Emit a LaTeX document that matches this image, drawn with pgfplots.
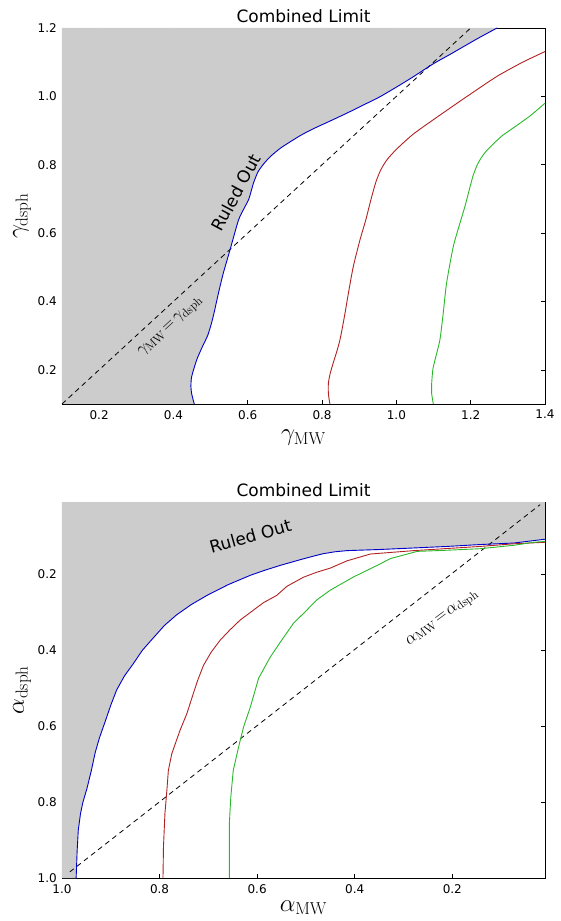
\documentclass[border=0pt]{standalone}
\usepackage[no-math]{fontspec}
\setmainfont{DejaVu Sans}
\usepackage{pgfplots}
\pgfplotsset{compat=1.18}
\definecolor{fillgray}{gray}{0.8}
\definecolor{cblue}{rgb}{0.0,0.0,0.8}
\definecolor{cred}{rgb}{0.70,0.13,0.13}
\definecolor{cgreen}{rgb}{0.16,0.72,0.16}
\pgfplotsset{
  common/.style={
    scale only axis, width=483pt, height=376pt, anchor=south west,
    clip mode=individual,
    /pgf/number format/assume math mode=true,
    /pgf/number format/fixed, /pgf/number format/fixed zerofill,
    /pgf/number format/precision=1,
    tick align=inside, major tick length=4pt,
    axis line style={line width=0.8pt}, tick style={line width=0.6pt, black},
    every tick label/.append style={font=\fontsize{12}{14}\selectfont, inner sep=0pt},
    xticklabel shift=6pt, yticklabel shift=5pt,
    title style={font=\fontsize{17}{20}\selectfont, at={(axis description cs:0.5,1)}, anchor=base, yshift=-0.5pt},
    xlabel style={font=\fontsize{26}{30}\selectfont, at={(axis description cs:0.5,0)}, anchor=base, yshift=-37pt},
  },
}
\begin{document}
\begin{tikzpicture}
\useasboundingbox (0,0) rectangle (561pt,921pt);
% ---------------- top panel ----------------
\begin{axis}[common, at={(62pt,517pt)},
  xmin=0.1, xmax=1.4, ymin=0.1, ymax=1.2,
  xtick={0.2,0.4,...,1.41}, ytick={0.2,0.4,...,1.21},
  title={Combined Limit},
  xlabel={$\gamma_{\mathrm{MW}}$}]
\addplot[fill=fillgray, draw=none] coordinates {
(0.1,1.2) (0.1,0.1)
(0.456,0.10) (0.449,0.13) (0.447,0.151) (0.449,0.180) (0.4625,0.229) (0.478,0.268)
(0.492,0.300) (0.502,0.335) (0.510,0.37) (0.521,0.424) (0.534,0.482) (0.552,0.550) (0.575,0.638)
(0.590,0.672) (0.603,0.70) (0.615,0.745) (0.627,0.778) (0.641,0.80) (0.66,0.823)
(0.69,0.85) (0.741,0.885) (0.776,0.905) (0.82,0.927) (0.867,0.951)
(0.91,0.974) (0.956,0.999) (1.0,1.027) (1.045,1.057) (1.099,1.095) (1.14,1.12)
(1.18,1.145) (1.22,1.17) (1.271,1.2)};
\addplot[black, line width=0.8pt, dash pattern=on 5pt off 4pt] coordinates {(0.1,0.1) (1.2,1.2)};
\addplot[cblue, line width=0.9pt, smooth, tension=0.4] coordinates {
(0.456,0.10) (0.449,0.13) (0.447,0.151) (0.449,0.180) (0.4625,0.229) (0.478,0.268)
(0.492,0.300) (0.502,0.335) (0.510,0.37) (0.521,0.424) (0.534,0.482) (0.552,0.550) (0.575,0.638)
(0.590,0.672) (0.603,0.70) (0.615,0.745) (0.627,0.778) (0.641,0.80) (0.66,0.823)
(0.69,0.85) (0.741,0.885) (0.776,0.905) (0.82,0.927) (0.867,0.951)
(0.91,0.974) (0.956,0.999) (1.0,1.027) (1.045,1.057) (1.099,1.095) (1.14,1.12)
(1.18,1.145) (1.22,1.17) (1.271,1.2)};
\addplot[cred, line width=0.9pt, smooth, tension=0.4] coordinates {
(0.821,0.10) (0.817,0.13) (0.817,0.161) (0.822,0.19) (0.830,0.220) (0.840,0.255)
(0.848,0.287) (0.857,0.337) (0.864,0.38) (0.871,0.425) (0.884,0.502) (0.902,0.580)
(0.918,0.64) (0.932,0.70) (0.945,0.75) (0.958,0.785) (0.975,0.815)
(1.001,0.846) (1.046,0.890) (1.117,0.945) (1.189,0.999) (1.27,1.058) (1.34,1.10)
(1.4,1.131)};
\addplot[cgreen, line width=0.9pt, smooth, tension=0.4] coordinates {
(1.0995,0.10) (1.095,0.13) (1.095,0.160) (1.098,0.20) (1.104,0.229) (1.117,0.287)
(1.126,0.365) (1.135,0.453) (1.153,0.560) (1.170,0.625) (1.185,0.68) (1.197,0.73)
(1.207,0.77) (1.22,0.805) (1.238,0.835) (1.26,0.86) (1.285,0.885) (1.315,0.908)
(1.36,0.943) (1.4,0.980)};
\node[rotate=62, font=\fontsize{17}{20}\selectfont] at (axis cs:0.568,0.719) {Ruled Out};
\node[rotate=42.7, font=\fontsize{17}{20}\selectfont] at (axis cs:0.393,0.326) {$\gamma_{\mathrm{MW}}\!=\!\gamma_{\mathrm{dsph}}$};
\node[rotate=90, font=\fontsize{26}{30}\selectfont, anchor=center] at (axis description cs:-0.0828,0.5) {$\gamma_{\mathrm{dsph}}$};
\end{axis}
% ---------------- bottom panel ----------------
\begin{axis}[common, at={(62pt,43pt)},
  x dir=reverse, y dir=reverse,
  xmin=0.01, xmax=1.0, ymin=0.01, ymax=1.0,
  xtick={0.2,0.4,...,1.01}, ytick={0.2,0.4,...,1.01},
  xlabel style={yshift=4pt},
  title={Combined Limit},
  xlabel={$\alpha_{\mathrm{MW}}$}]
\addplot[fill=fillgray, draw=none] coordinates {
(1.0,0.01) (1.0,1.0)
(0.971,1.0) (0.969,0.93) (0.9666,0.874) (0.962,0.83) (0.957,0.80) (0.949,0.765) (0.940,0.718)
(0.932,0.670) (0.923,0.63) (0.912,0.590) (0.900,0.545) (0.888,0.505) (0.872,0.468) (0.854,0.436)
(0.835,0.40) (0.813,0.368) (0.790,0.335) (0.765,0.307) (0.735,0.28) (0.703,0.256)
(0.66,0.228) (0.614,0.203) (0.585,0.19) (0.553,0.177) (0.512,0.162) (0.48,0.151)
(0.464,0.146) (0.44,0.141) (0.416,0.138) (0.348,0.135) (0.279,0.131) (0.211,0.127)
(0.143,0.122) (0.074,0.118) (0.01,0.108)
(0.01,0.01)};
\addplot[black, line width=0.8pt, dash pattern=on 5pt off 4pt] coordinates {(0.984,0.984) (0.02,0.017)};
\addplot[cblue, line width=0.9pt] coordinates {
(0.971,1.0) (0.969,0.93) (0.9666,0.874) (0.962,0.83) (0.957,0.80) (0.949,0.765) (0.940,0.718)
(0.932,0.670) (0.923,0.63) (0.912,0.590) (0.900,0.545) (0.888,0.505) (0.872,0.468) (0.854,0.436)
(0.835,0.40) (0.813,0.368) (0.790,0.335) (0.765,0.307) (0.735,0.28) (0.703,0.256)
(0.66,0.228) (0.614,0.203) (0.585,0.19) (0.553,0.177) (0.512,0.162) (0.48,0.151)
(0.464,0.146) (0.44,0.141) (0.416,0.138) (0.348,0.135) (0.279,0.131) (0.211,0.127)
(0.143,0.122) (0.074,0.118) (0.01,0.108)};
\addplot[cred, line width=0.9pt] coordinates {
(0.793,1.0) (0.792,0.918) (0.789,0.83) (0.785,0.769) (0.782,0.717) (0.775,0.673)
(0.766,0.64) (0.758,0.611) (0.744,0.567) (0.731,0.515) (0.722,0.48) (0.710,0.440)
(0.694,0.405) (0.676,0.374) (0.656,0.347) (0.635,0.321) (0.61,0.297) (0.587,0.275)
(0.560,0.256) (0.539,0.232) (0.505,0.208) (0.478,0.195) (0.450,0.184)
(0.416,0.165) (0.368,0.147) (0.279,0.138) (0.143,0.127) (0.074,0.12) (0.01,0.116)};
\addplot[cgreen, line width=0.9pt] coordinates {
(0.657,1.0) (0.657,0.857) (0.654,0.787) (0.649,0.717) (0.638,0.655) (0.628,0.603)
(0.614,0.55) (0.597,0.474) (0.573,0.418) (0.553,0.38) (0.526,0.33) (0.50,0.297) (0.478,0.268)
(0.450,0.242) (0.402,0.207) (0.354,0.177) (0.327,0.159) (0.272,0.140) (0.211,0.137)
(0.143,0.133) (0.074,0.124) (0.033,0.116) (0.01,0.114)};
\node[rotate=15.6, font=\fontsize{17}{20}\selectfont] at (axis cs:0.614,0.10) {Ruled Out};
\node[rotate=36.7, font=\fontsize{17}{20}\selectfont] at (axis cs:0.2195,0.317) {$\alpha_{\mathrm{MW}}\!=\!\alpha_{\mathrm{dsph}}$};
\node[rotate=90, font=\fontsize{26}{30}\selectfont, anchor=center] at (axis description cs:-0.0828,0.5) {$\alpha_{\mathrm{dsph}}$};
\end{axis}
\end{tikzpicture}
\end{document}
